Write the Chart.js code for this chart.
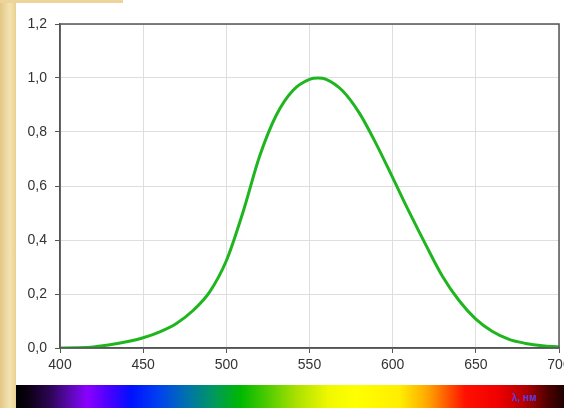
<!DOCTYPE html>
<html>
<head>
<meta charset="utf-8">
<script src="https://cdn.jsdelivr.net/npm/chart.js@4/dist/chart.umd.min.js"></script>
<style>
  html, body { margin: 0; padding: 0; }
  body {
    width: 564px; height: 408px; position: relative; overflow: hidden;
    background: linear-gradient(to right, #e3c685 0px, #f4e4b4 10px, #ead08f 16px);
  }
  #topgold { position: absolute; left: 0; top: 0; width: 123px; height: 3px; background: #ecd49a; z-index: 2; }
  #panel { position: absolute; left: 16px; top: 0; width: 548px; height: 385px; background: #fff; }
  #spectrum {
    position: absolute; left: 16px; top: 385px; width: 548px; height: 23px;
    background: linear-gradient(to right,
      #000000 0%, #0a0010 2%, #2a0550 6%, #6a08d0 11%, #8a00ff 13%, #4a00ff 17%,
      #0010ff 21%, #0040f0 26%, #0070b0 31%, #009860 36%, #00b800 41%, #40c800 45%,
      #a8e000 51%, #f0f800 57%, #ffff00 62%, #ffee00 70%, #ffa800 75%, #ff5000 79%,
      #ff1000 82%, #f00000 88%, #b00000 93%, #500000 97%, #200000 100%);
  }
  #unit {
    position: absolute; left: 512px; top: 392px; font: bold 10px "Liberation Sans", Arial, sans-serif;
    color: #5a3ce0;
  }
</style>
</head>
<body>
<div id="topgold"></div>
<div id="panel"><canvas id="c"></canvas></div>
<div id="spectrum"></div>
<div id="unit">λ, нм</div>
<script>
// кривая видности V(λ)
const wavelengths = [400, 410, 420, 430, 440, 450, 460, 470, 480, 490, 500, 510, 520, 530, 540,
  550, 555, 560, 570, 580, 590, 600, 610, 620, 630, 640, 650, 660, 670, 680, 690, 700];
const sensitivity = [0.000, 0.001, 0.004, 0.012, 0.023, 0.038, 0.060, 0.091, 0.139, 0.208, 0.323,
  0.503, 0.710, 0.862, 0.954, 0.995, 1.000, 0.995, 0.952, 0.870, 0.757, 0.631, 0.503, 0.381,
  0.265, 0.175, 0.107, 0.061, 0.032, 0.017, 0.008, 0.004];
const xTicks = [400, 450, 500, 550, 600, 650, 700];
const yTicks = [0, 0.2, 0.4, 0.6, 0.8, 1.0, 1.2];

const axisColor = '#555';
const gridColor = '#dedede';
const font = { family: "'Liberation Sans', Arial, sans-serif", size: 14 };

// рамка сверху и справа
const frame = {
  id: 'frame',
  afterDraw(chart) {
    const a = chart.chartArea, ctx = chart.ctx;
    ctx.save();
    ctx.strokeStyle = axisColor;
    ctx.lineWidth = 1.5;
    ctx.strokeRect(a.left, a.top, a.right - a.left, a.bottom - a.top);
    ctx.restore();
  }
};

new Chart(document.getElementById('c'), {
  type: 'line',
  data: {
    datasets: [{
      data: wavelengths.map((w, i) => ({ x: w, y: sensitivity[i] })),
      borderColor: '#1fb51f',
      borderWidth: 3,
      pointRadius: 0,
      cubicInterpolationMode: 'monotone',
      fill: false,
    }],
  },
  options: {
    responsive: true,
    maintainAspectRatio: false,
    animation: false,
    layout: { padding: { top: 24, right: 5, left: 0, bottom: 0 } },
    plugins: { legend: { display: false }, tooltip: { enabled: false } },
    scales: {
      x: {
        type: 'linear',
        min: 400, max: 700,
        afterBuildTicks: (s) => { s.ticks = xTicks.map((v) => ({ value: v })); },
        afterFit: (s) => { s.height = 37; s.paddingLeft = 0; s.paddingRight = 0; },
        ticks: { color: '#333', font, padding: 4, maxRotation: 0, autoSkip: false },
        grid: { color: gridColor, tickColor: axisColor, tickLength: 5 },
        border: { color: axisColor, width: 1.5 },
      },
      y: {
        min: 0, max: 1.2,
        afterBuildTicks: (s) => { s.ticks = yTicks.map((v) => ({ value: v })); },
        afterFit: (s) => { s.width = 44; s.paddingTop = 0; s.paddingBottom = 0; },
        ticks: { color: '#333', font, padding: 8, callback: (v) => v.toFixed(1).replace('.', ',') },
        grid: { color: gridColor, tickColor: axisColor, tickLength: 5 },
        border: { color: axisColor, width: 1.5 },
      },
    },
  },
  plugins: [frame],
});
</script>
</body>
</html>
